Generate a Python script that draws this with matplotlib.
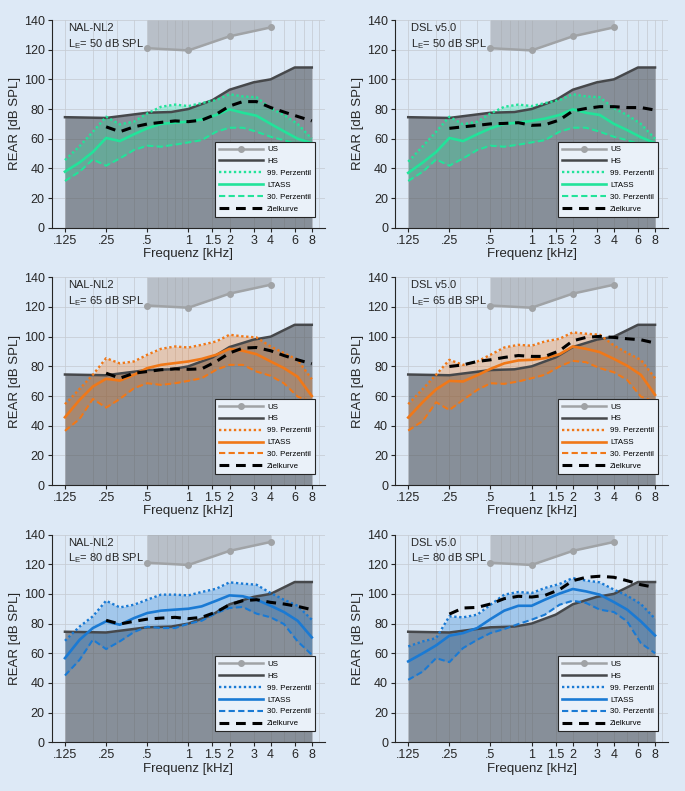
import matplotlib
matplotlib.use("Agg")
import matplotlib.pyplot as plt
from matplotlib.ticker import FixedLocator, NullFormatter

# === Data ===
freq = [0.125, 0.16, 0.2, 0.25, 0.315, 0.4, 0.5, 0.63, 0.8, 1, 1.25, 1.6,
        2, 2.5, 3.15, 4, 5, 6.3, 8]
freq_target = freq[3:]

# Unbehaglichkeitsschwelle (US) and Hoerschwelle (HS)
us_freq = [0.5, 1, 2, 4]
us_level = [121, 119.5, 129, 135]
hs_freq = [0.125, 0.25, 0.5, 0.75, 1, 1.5, 2, 3, 4, 6, 8]
hs_level = [74.5, 74, 77.5, 78, 80, 86, 93, 98, 100, 108, 108]

# NAL-NL2, 50 dB SPL
nal50_p99 = [45.6, 55, 64.7, 74.8, 69.7, 71.5, 77, 81.5, 83, 82, 84, 86, 90, 88.5, 88, 80.5, 76, 70, 60]
nal50_ltass = [37.8, 44, 51, 60.5, 58.4, 63, 67, 70, 70.8, 71.5, 73, 76, 79.8, 77.5, 75.5, 70, 65, 60, 57]
nal50_p30 = [31.5, 37.8, 46, 41.8, 46.7, 52.4, 55.3, 54.6, 56, 57.5, 59, 64.7, 67.4, 67.4, 64.7, 61.3, 59, 56, 52]
nal50_target = [68, 64.7, 68, 69.9, 71, 72, 71.5, 72.5, 76.5, 82, 85, 85, 81, 78, 75, 72]

# DSL v5.0, 50 dB SPL
dsl50_p99 = [44.5, 55, 64.7, 74.8, 69.7, 71.5, 77, 81.5, 83, 82, 84, 86, 90, 88.5, 88, 80.5, 76, 70, 60]
dsl50_ltass = [37, 44, 51, 60.5, 58.4, 63, 67, 70, 70.8, 72, 73.5, 76, 79.8, 77.5, 76, 70, 65.8, 61, 57]
dsl50_p30 = [31.5, 37.8, 46, 41.8, 46.7, 52.4, 55.3, 54.6, 56, 57.5, 59, 64.7, 67.4, 67.4, 64.7, 61.3, 59, 56, 52]
dsl50_target = [67, 68, 69, 70, 70.3, 70.8, 69, 69.4, 72.6, 78.7, 80.4, 81.6, 81.6, 81, 81, 79.3]

# NAL-NL2, 65 dB SPL
nal65_p99 = [54.5, 64.8, 74.3, 85.5, 82, 83.3, 87.8, 91.8, 93.4, 92.7, 94.5, 96.8, 101.3, 100.2, 99.5, 93.4, 89, 84.4, 71.3]
nal65_ltass = [45.7, 57.4, 66.4, 71.6, 70.4, 74.3, 78.8, 81, 82.2, 83.3, 85, 87.8, 91.8, 90.5, 88.2, 83.3, 78.8, 73, 60]
nal65_p30 = [36.5, 44.6, 58, 52.2, 58, 65.3, 68.6, 67.5, 68.6, 70.2, 72, 77.7, 81, 81, 76.5, 73.6, 68.6, 59.6, 56]
nal65_target = [75.4, 72, 75.4, 76.5, 77.7, 78.3, 78, 78.3, 83.3, 89, 92.3, 92.7, 90.5, 87.3, 84.4, 81.7]

# DSL v5.0, 65 dB SPL
dsl65_p99 = [54.5, 64.8, 74.3, 84.4, 81, 83.3, 87.8, 92.7, 94.5, 93.9, 96.8, 98.6, 102.9, 102, 101.3, 94.1, 89, 84.4, 72]
dsl65_ltass = [45.5, 56, 64.5, 70.2, 69.8, 74, 78.3, 82, 84, 84.4, 85.5, 88.2, 93.4, 91.8, 89.6, 85, 80.4, 74.3, 60.8]
dsl65_p30 = [36.7, 43.2, 55.8, 50.6, 57.4, 64.1, 68.6, 68.2, 69.8, 72, 74.3, 79.9, 83.7, 82.8, 78.8, 76, 70.9, 59.6, 56]
dsl65_target = [79.9, 81, 83.3, 84.4, 86, 87.3, 86.7, 86.7, 90.5, 97.2, 99.5, 100.2, 99.5, 98.6, 97.9, 95.7]

# NAL-NL2, 80 dB SPL
nal80_p99 = [68.4, 78, 84.9, 95.4, 90.9, 92.7, 96.1, 99.5, 99.5, 99, 101.3, 103.5, 107.8, 106.9, 106.2, 100.6, 96.1, 92, 82.6]
nal80_ltass = [56.7, 69.1, 77, 81.5, 79.2, 83.7, 87.1, 88.7, 89.4, 90, 91.6, 95.4, 99, 98.4, 96.1, 92, 87.8, 81.9, 70.7]
nal80_p30 = [45, 55.6, 69.1, 62.8, 68, 74.3, 77.9, 77, 77, 79.9, 81.9, 87.1, 90.5, 91.2, 86.7, 84.2, 79.7, 68, 59]
nal80_target = [82.2, 79.7, 81.5, 83, 83.7, 84.2, 83.3, 84.2, 87.8, 92.7, 95.4, 96.1, 94.3, 93.2, 91.6, 89.4]

# DSL v5.0, 80 dB SPL
dsl80_p99 = [64.6, 68, 70.2, 84.9, 84.2, 86, 92.7, 99.5, 101.3, 100.6, 104, 106.7, 110.7, 109, 107.8, 102.9, 98.8, 93.2, 83.3]
dsl80_ltass = [54.5, 60, 65.3, 71.8, 73.6, 77, 83, 88.7, 92, 92, 96.1, 100.2, 103.3, 101.7, 99.5, 94.5, 89.4, 81.5, 72]
dsl80_p30 = [42.1, 47.7, 56.7, 54, 63.5, 69.1, 73.6, 76.3, 79.7, 82.6, 86, 92.7, 95.4, 93.9, 89.4, 87.8, 81.5, 66.8, 60]
dsl80_target = [86.4, 90.5, 90.9, 93.2, 96.8, 98.4, 97.9, 99, 102.9, 108.9, 111.2, 111.9, 111.2, 108.9, 106.2, 104.4]

xtick_pos = [0.125, 0.25, 0.5, 1, 1.5, 2, 3, 4, 6, 8]
xtick_labels = [".125", ".25", ".5", "1", "1.5", "2", "3", "4", "6", "8"]
minor_grid = [m * d for d in (0.1, 1) for m in range(2, 10)] + [10]

# === Style ===
plt.rcParams.update({
    "font.family": ["Liberation Sans", "DejaVu Sans"],
    "font.size": 8.5,
    "axes.linewidth": 0.8,
})
bg = "#dde9f6"

panels = [
    # (row, col, rule, level, color, p99, ltass, p30, target)
    (0, 0, "NAL-NL2", 50, "#22e39a", nal50_p99, nal50_ltass, nal50_p30, nal50_target),
    (0, 1, "DSL v5.0", 50, "#22e39a", dsl50_p99, dsl50_ltass, dsl50_p30, dsl50_target),
    (1, 0, "NAL-NL2", 65, "#f07818", nal65_p99, nal65_ltass, nal65_p30, nal65_target),
    (1, 1, "DSL v5.0", 65, "#f07818", dsl65_p99, dsl65_ltass, dsl65_p30, dsl65_target),
    (2, 0, "NAL-NL2", 80, "#1a7ad4", nal80_p99, nal80_ltass, nal80_p30, nal80_target),
    (2, 1, "DSL v5.0", 80, "#1a7ad4", dsl80_p99, dsl80_ltass, dsl80_p30, dsl80_target),
]

fig = plt.figure(figsize=(6.85, 7.91), dpi=100, facecolor=bg)
lefts = [0.0755, 0.5766]
bottoms = [0.7121, 0.3868, 0.0616]
w, h = 0.399, 0.2626

for row, col, rule, level, color, p99, ltass, p30, target in panels:
    ax = fig.add_axes([lefts[col], bottoms[row], w, h])
    ax.set_facecolor(bg)
    ax.set_xscale("log")
    ax.set_xlim(0.1, 10)
    ax.set_ylim(0, 140)

    # grid (major + log minor positions)
    for x in sorted(set(minor_grid + xtick_pos)):
        ax.axvline(x, color="#c6ccd3", lw=0.55, zorder=0)
    for y in range(20, 141, 20):
        ax.axhline(y, color="#c6ccd3", lw=0.55, zorder=0)

    # shaded regions
    ax.fill_between(us_freq, us_level, 140, color="#9a9ea3", alpha=0.55, lw=0, zorder=1)
    ax.fill_between(hs_freq, 0, hs_level, color="#4a4f56", alpha=0.58, lw=0, zorder=1)
    ax.fill_between(freq, p30, p99, color=color, alpha=0.3, lw=0, zorder=2)

    # lines
    ax.plot(us_freq, us_level, color="#a0a3a6", lw=1.8, marker="o", ms=4, label="US", zorder=3)
    ax.plot(hs_freq, hs_level, color="#46484b", lw=1.8, label="HS", zorder=3)
    ax.plot(freq, p99, color=color, lw=1.7, ls=(0, (1, 1.1)), label="99. Perzentil", zorder=4)
    ax.plot(freq, ltass, color=color, lw=1.9, label="LTASS", zorder=4)
    ax.plot(freq, p30, color=color, lw=1.5, ls=(0, (3, 1.6)), label="30. Perzentil", zorder=4)
    ax.plot(freq_target, target, color="black", lw=2.2, ls=(0, (3.2, 2.2)), label="Zielkurve", zorder=5)

    # axes styling
    for s in ("top", "right"):
        ax.spines[s].set_visible(False)
    for s in ("left", "bottom"):
        ax.spines[s].set_color("#262626")
    ax.xaxis.set_major_locator(FixedLocator(xtick_pos))
    ax.set_xticklabels(xtick_labels)
    ax.xaxis.set_minor_locator(FixedLocator([]))
    ax.xaxis.set_minor_formatter(NullFormatter())
    ax.set_yticks(range(0, 141, 20))
    ax.tick_params(direction="out", length=3, width=0.8, colors="#262626", labelsize=9, pad=2)
    ax.set_xlabel("Frequenz [kHz]", fontsize=9.5, labelpad=1, color="#262626")
    ax.set_ylabel("REAR [dB SPL]", fontsize=9.5, labelpad=2, color="#262626")

    ax.text(0.06, 0.985, rule, transform=ax.transAxes, fontsize=8, va="top", ha="left", color="#262626", zorder=6)
    ax.text(0.06, 0.918, r"L$_\mathregular{E}$= %d dB SPL" % level, transform=ax.transAxes,
            fontsize=8, va="top", ha="left", color="#262626", zorder=6)

    leg = ax.legend(loc="lower right", bbox_to_anchor=(0.963, 0.053), borderaxespad=0,
                    fontsize=5.7, handlelength=5.6, labelspacing=0.55, handletextpad=0.5,
                    borderpad=0.5, fancybox=False, framealpha=1)
    leg.get_frame().set_facecolor("#eaf1f9")
    leg.get_frame().set_edgecolor("#262626")
    leg.get_frame().set_linewidth(0.8)
    leg.set_zorder(7)

plt.savefig("out.png", dpi=100, facecolor=bg)
plt.close()
